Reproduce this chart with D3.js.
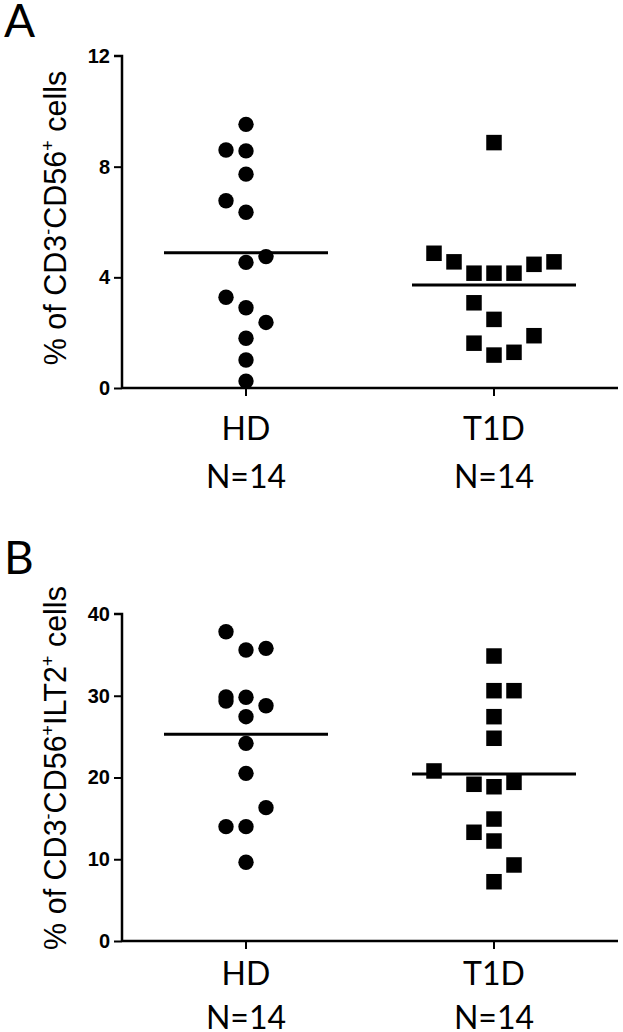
<!DOCTYPE html>
<html>
<head>
<meta charset="utf-8">
<script src="https://cdn.jsdelivr.net/npm/d3@7"></script>
<style>
  html, body { margin: 0; padding: 0; background: #fff; }
  svg { display: block; }
</style>
</head>
<body>
<svg id="chart" width="623" height="1032"></svg>
<script>
// ---------- data ----------
const categories = ["HD", "T1D"];
const categorySubLabels = ["N=14", "N=14"];

const ticksA = [0, 4, 8, 12];
const ticksB = [0, 10, 20, 30, 40];

// Panel A: % of CD3-CD56+ cells
const hdA   = [9.53, 8.60, 8.57, 7.73, 6.77, 6.35, 4.75, 4.54, 3.28, 2.90, 2.37, 1.80, 1.01, 0.25];
const hdLaneA = [0, -1, 0, 0, -1, 0, 1, 0, -1, 0, 1, 0, 0, 0];
const t1dA  = [8.87, 4.87, 4.56, 4.15, 4.15, 4.15, 4.47, 4.56, 3.08, 2.48, 1.62, 1.19, 1.29, 1.89];
const t1dLaneA = [0, -3, -2, -1, 0, 1, 2, 3, -1, 0, -1, 0, 1, 2];
const meanA = [4.89, 3.72];

// Panel B: % of CD3-CD56+ILT2+ cells
const hdB   = [37.83, 35.60, 35.80, 29.85, 29.36, 29.81, 28.78, 27.44, 24.18, 20.51, 16.31, 13.99, 13.99, 9.63];
const hdLaneB = [-1, 0, 1, -1, -1, 0, 1, 0, 0, 0, 1, -1, 0, 0];
const t1dB  = [34.86, 30.62, 30.62, 27.44, 24.80, 20.80, 19.17, 18.87, 19.41, 14.92, 13.30, 12.23, 9.30, 7.25];
const t1dLaneB = [0, 0, 1, 0, 0, -3, -1, 0, 1, 0, -1, 0, 1, 0];
const meanB = [25.28, 20.43];

// ---------- drawing ----------
const svg = d3.select("#chart");

const panels = [
  { letter: "A", letterY: 37, top: 56, bottom: 388, max: 12, ticks: ticksA,
    hd: hdA, hdLane: hdLaneA, t1d: t1dA, t1dLane: t1dLaneA, means: meanA,
    catY1: 440, catY2: 488, labelMid: 218,
    label: [["% of CD3", 0], ["-", 1], ["CD56", 0], ["+", 1], [" cells", 0]] },
  { letter: "B", letterY: 574, top: 614, bottom: 941, max: 40, ticks: ticksB,
    hd: hdB, hdLane: hdLaneB, t1d: t1dB, t1dLane: t1dLaneB, means: meanB,
    catY1: 985, catY2: 1029, labelMid: 768,
    label: [["% of CD3", 0], ["-", 1], ["CD56", 0], ["+", 1], ["ILT2", 0], ["+", 1], [" cells", 0]] }
];

const axisX = 122;
const x = d3.scaleBand().domain(categories).range([axisX, 618]);
const lane = d3.scaleLinear().domain([0, 1]).range([0, 20]);
const r = 7.7, sq = 15.5, halfMean = 82;

panels.forEach(p => {
  const y = d3.scaleLinear().domain([0, p.max]).range([p.bottom, p.top]);
  const g = svg.append("g");

  // panel letter
  g.append("text").attr("x", 4).attr("y", p.letterY)
    .attr("font-family", "Lato, 'Open Sans', sans-serif").attr("font-size", 46)
    .attr("fill", "#000").text(p.letter);

  // y axis
  const yAxis = d3.axisLeft(y).tickValues(p.ticks).tickSize(8).tickPadding(4).tickFormat(d3.format("d"));
  const ya = g.append("g").attr("transform", `translate(${axisX},0)`).call(yAxis);
  ya.select(".domain").attr("stroke", "#000").attr("stroke-width", 2.5)
    .attr("d", `M-8,${p.top}H0V${p.bottom}`);
  ya.selectAll(".tick line").attr("stroke", "#000").attr("stroke-width", 2);
  ya.selectAll(".tick text").attr("font-family", "'Liberation Sans', Arial, sans-serif")
    .attr("font-weight", "bold").attr("font-size", 20).attr("fill", "#000");
  ya.selectAll(".tick").filter(d => d === p.max).select("line").remove();

  // x axis
  const xAxis = d3.axisBottom(x).tickSize(8).tickFormat("");
  const xa = g.append("g").attr("transform", `translate(0,${p.bottom})`).call(xAxis);
  xa.select(".domain").attr("stroke", "#000").attr("stroke-width", 2.5)
    .attr("d", `M${axisX},0H618`);
  xa.selectAll(".tick line").attr("stroke", "#000").attr("stroke-width", 2);

  // category labels
  categories.forEach((c, i) => {
    const cx = x(c) + x.bandwidth() / 2;
    g.append("text").attr("x", cx).attr("y", p.catY1).attr("text-anchor", "middle")
      .attr("font-family", "Lato, 'Open Sans', sans-serif").attr("font-size", 32).attr("fill", "#000").text(c);
    g.append("text").attr("x", cx).attr("y", p.catY2).attr("text-anchor", "middle")
      .attr("font-family", "Lato, 'Open Sans', sans-serif").attr("font-size", 32).attr("fill", "#000").text(categorySubLabels[i]);
  });

  // y label
  const lab = g.append("text")
    .attr("transform", `translate(66,${p.labelMid}) rotate(-90)`)
    .attr("text-anchor", "middle")
    .attr("font-family", "'Liberation Sans', Arial, sans-serif").attr("font-size", 30.5).attr("fill", "#000");
  let prevSup = 0;
  p.label.forEach(([t, sup]) => {
    const dy = sup === prevSup ? 0 : (sup ? -12 : 12);
    lab.append("tspan").attr("dy", dy).attr("font-size", sup ? 18 : 30.5).text(t);
    prevSup = sup;
  });

  // HD circles
  const hcx = x("HD") + x.bandwidth() / 2;
  g.selectAll("circle.hd").data(p.hd).join("circle")
    .attr("cx", (d, i) => hcx + lane(p.hdLane[i]))
    .attr("cy", d => y(d)).attr("r", r).attr("fill", "#000");

  // T1D squares
  const tcx = x("T1D") + x.bandwidth() / 2;
  g.selectAll("rect.t1d").data(p.t1d).join("rect")
    .attr("x", (d, i) => tcx + lane(p.t1dLane[i]) - sq / 2)
    .attr("y", d => y(d) - sq / 2).attr("width", sq).attr("height", sq).attr("fill", "#000");

  // mean lines
  g.selectAll("line.mean").data(p.means).join("line")
    .attr("x1", (d, i) => x(categories[i]) + x.bandwidth() / 2 - halfMean)
    .attr("x2", (d, i) => x(categories[i]) + x.bandwidth() / 2 + halfMean)
    .attr("y1", d => y(d)).attr("y2", d => y(d))
    .attr("stroke", "#000").attr("stroke-width", 3);
});
</script>
</body>
</html>
